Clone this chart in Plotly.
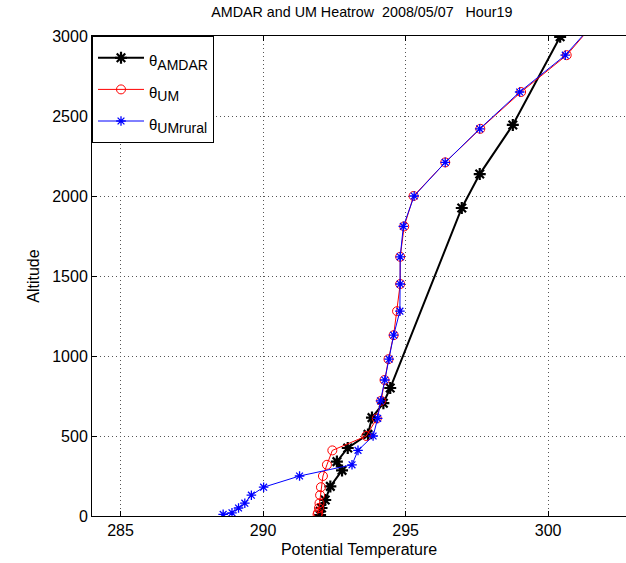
import plotly.graph_objects as go

# AMDAR observations
amdar_alt = [5, 50, 100, 185, 285, 340, 425, 510, 615, 705, 800, 1925, 2137, 2444, 2995]
amdar_theta = [292.0, 292.05, 292.18, 292.36, 292.77, 292.59, 292.97, 293.68, 293.82, 294.22, 294.46,
               296.97, 297.6, 298.76, 300.42]

# UM model levels
um_alt = [10, 20, 50, 80, 130, 180, 250, 320, 410, 500, 610, 720, 850, 980, 1130, 1280,
          1450, 1620, 1810, 2000, 2210, 2420, 2650, 2880, 3130]
um_theta = [291.91, 291.93, 291.96, 291.98, 292.0, 292.03, 292.1, 292.24, 292.43, 293.62,
            293.99, 294.14, 294.26, 294.40, 294.58, 294.70, 294.81, 294.81, 294.95, 295.28,
            296.39, 297.62, 299.05, 300.65, 301.85]
umrural_theta = [288.6, 288.91, 289.14, 289.36, 289.59, 290.02, 291.28, 293.12, 293.33, 293.86,
                 294.02, 294.12, 294.27, 294.42, 294.58, 294.80, 294.81, 294.81, 294.92, 295.30,
                 296.39, 297.6, 299.0, 300.6, 301.85]

x_ticks = [285, 290, 295, 300]
y_ticks = [0, 500, 1000, 1500, 2000, 2500, 3000]


def legend_name(sub):
    return ("<span style='font-size:15px'>θ<sub><span style='font-size:14px'>" + sub +
            "</span></sub></span>")


fig = go.Figure()
fig.add_trace(go.Scatter(
    x=amdar_theta, y=amdar_alt, mode="lines+markers", name=legend_name("AMDAR"),
    line=dict(color="black", width=2),
    marker=dict(symbol="asterisk-open", size=10, line=dict(color="black", width=2.2)),
))
fig.add_trace(go.Scatter(
    x=um_theta, y=um_alt, mode="lines+markers", name=legend_name("UM"),
    line=dict(color="#ff0000", width=1),
    marker=dict(symbol="circle-open", size=9, color="#ff0000", line=dict(color="#ff0000", width=1)),
))
fig.add_trace(go.Scatter(
    x=umrural_theta, y=um_alt, mode="lines+markers", name=legend_name("UMrural"),
    line=dict(color="#0000ff", width=1),
    marker=dict(symbol="asterisk-open", size=8, line=dict(color="#0000ff", width=1.3)),
))

font_family = "Liberation Sans, Arial, sans-serif"
fig.update_layout(
    width=626, height=563,
    margin=dict(l=92, r=0, t=36, b=47),
    paper_bgcolor="white", plot_bgcolor="white",
    font=dict(family=font_family, color="black", size=15),
    title=dict(text="AMDAR and UM Heatrow  2008/05/07   Hour19", x=0.578, xanchor="center",
               y=0.978, yanchor="middle", font=dict(size=14.3, color="black")),
    showlegend=True,
    legend=dict(x=0, y=1, xanchor="left", yanchor="top", bgcolor="white",
                bordercolor="black", borderwidth=1, font=dict(size=22),
                tracegroupgap=0, itemwidth=46),
)
fig.update_xaxes(
    range=[284, 302.73], tickvals=x_ticks, ticktext=[str(v) for v in x_ticks],
    showline=True, linecolor="black", linewidth=1, mirror="ticks",
    ticks="inside", ticklen=5, tickcolor="black",
    showgrid=True, gridcolor="#555", griddash="1px,3px", gridwidth=1,
    zeroline=False, tickfont=dict(size=16),
    title=dict(text="Potential Temperature", font=dict(size=16), standoff=5),
)
fig.update_yaxes(
    range=[0, 3000], tickvals=y_ticks, ticktext=[str(v) for v in y_ticks],
    showline=True, linecolor="black", linewidth=1,
    ticks="inside", ticklen=5, tickcolor="black",
    showgrid=True, gridcolor="#555", griddash="1px,3px", gridwidth=1,
    zeroline=False, tickfont=dict(size=16),
    title=dict(text="Altitude", font=dict(size=16), standoff=8),
)
fig.write_html("out.html")
